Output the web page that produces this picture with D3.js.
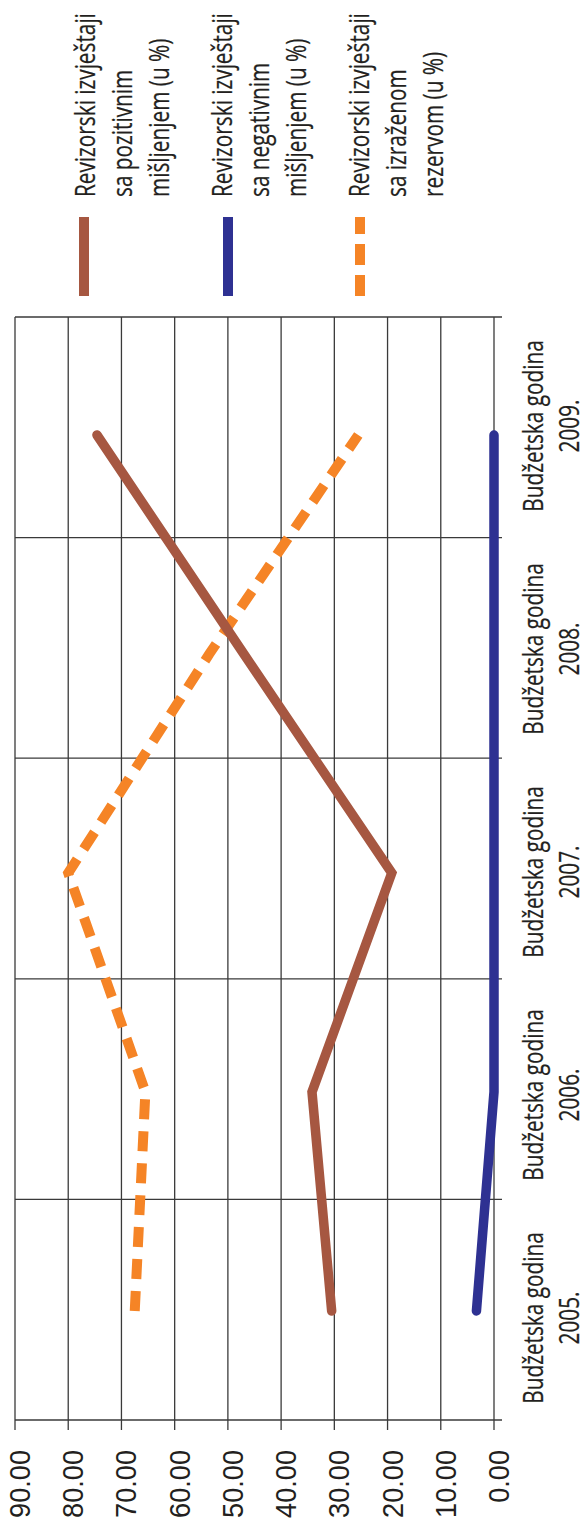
<!DOCTYPE html>
<html>
<head>
<meta charset="utf-8">
<script src="https://cdn.jsdelivr.net/npm/d3@7"></script>
<style>
html,body{margin:0;padding:0;background:#fff;}
svg{display:block;}
</style>
</head>
<body>
<svg id="chart" width="588" height="1521"></svg>
<script>
// ---- data ----
const categories = ["2005.", "2006.", "2007.", "2008.", "2009."];
const categoryPrefix = "Budžetska godina";
const positiveOpinion = [30.5, 34.2, 19.2, 47.0, 74.6];
const negativeOpinion = [3.3, 0.0, 0.0, 0.0, 0.0];
const qualifiedOpinion = [67.5, 65.5, 80.0, 53.5, 25.5];
const valueTicks = [0, 10, 20, 30, 40, 50, 60, 70, 80, 90];
const seriesNames = [
  ["Revizorski izvještaji", "sa pozitivnim", "mišljenjem (u %)"],
  ["Revizorski izvještaji", "sa negativnim", "mišljenjem (u %)"],
  ["Revizorski izvještaji", "sa izraženom", "rezervom (u %)"]
];

// ---- style ----
const colors = ["#A65741", "#2E3192", "#F58426"];
const textColor = "#231F20";
const gridColor = "#3a3a3a";
const labelFont = "'Open Sans', 'Liberation Sans', sans-serif";
const tickFont = "'Liberation Sans', Arial, sans-serif";

const svg = d3.select("#chart");

// layout (chart rotated: value axis horizontal, categories vertical, bottom -> top)
const plotLeft = 15, plotRight = 494, plotTop = 317, plotBottom = 1420;
const x = d3.scaleLinear().domain([0, 90]).range([plotRight, plotLeft]);
const band = d3.scaleBand().domain(categories).range([plotBottom, plotTop]);
const yPoint = d3.scalePoint().domain(categories).range([1311, 435]);
const yLabel = d3.scalePoint().domain(categories).range([1318, 426]);

function measure(str, font, size) {
  const t = svg.append("text").attr("font-family", font).attr("font-size", size).text(str);
  const w = t.node().getComputedTextLength();
  t.remove();
  return w;
}
const labelSize = 28, tickSize = 30;
const kLabel = 184 / measure("Revizorski izvještaji", labelFont, labelSize);
const kTick = 68 / measure("90.00", tickFont, tickSize);

// ---- grid ----
const grid = svg.append("g").attr("stroke", gridColor).attr("stroke-width", 1.3).attr("fill", "none");
grid.selectAll("line.v").data(valueTicks).join("line")
  .attr("x1", d => x(d)).attr("x2", d => x(d))
  .attr("y1", plotTop).attr("y2", plotBottom + 10);
grid.selectAll("line.c").data(categories).join("line")
  .attr("x1", plotLeft).attr("x2", plotRight + 8)
  .attr("y1", d => band(d)).attr("y2", d => band(d));
grid.append("line")
  .attr("x1", plotLeft).attr("x2", plotRight + 8)
  .attr("y1", plotBottom).attr("y2", plotBottom);

// ---- tick labels ----
svg.append("g").selectAll("text").data(valueTicks).join("text")
  .attr("transform", d => `translate(${x(d) + 15},1450) rotate(-90) scale(${kTick},1)`)
  .attr("text-anchor", "end")
  .attr("font-family", tickFont)
  .attr("font-size", tickSize)
  .attr("fill", textColor)
  .text(d => d.toFixed(2));

// ---- category labels ----
const cat = svg.append("g");
cat.selectAll("text.l1").data(categories).join("text")
  .attr("transform", d => `translate(543,${yLabel(d)}) rotate(-90) scale(${kLabel},1)`)
  .attr("text-anchor", "middle")
  .attr("font-family", labelFont).attr("font-size", labelSize).attr("fill", textColor)
  .attr("stroke", textColor).attr("stroke-width", 0.25)
  .text(categoryPrefix);
cat.selectAll("text.l2").data(categories).join("text")
  .attr("transform", d => `translate(579,${yLabel(d)}) rotate(-90) scale(${kLabel},1)`)
  .attr("text-anchor", "middle")
  .attr("font-family", labelFont).attr("font-size", labelSize).attr("fill", textColor)
  .attr("stroke", textColor).attr("stroke-width", 0.25)
  .text(d => d);

// ---- series lines ----
const line = d3.line()
  .x(d => x(d.v))
  .y(d => yPoint(d.c));
const seriesData = [positiveOpinion, negativeOpinion, qualifiedOpinion].map(arr =>
  arr.map((v, i) => ({ c: categories[i], v })));

svg.append("path").datum(seriesData[1])
  .attr("d", line).attr("fill", "none").attr("stroke", colors[1])
  .attr("stroke-width", 9.5).attr("stroke-linecap", "round").attr("stroke-linejoin", "round");
svg.append("path").datum(seriesData[2])
  .attr("d", line).attr("fill", "none").attr("stroke", colors[2])
  .attr("stroke-width", 10).attr("stroke-linecap", "butt").attr("stroke-linejoin", "miter")
  .attr("stroke-dasharray", "20,12");
svg.append("path").datum(seriesData[0])
  .attr("d", line).attr("fill", "none").attr("stroke", colors[0])
  .attr("stroke-width", 9.5).attr("stroke-linecap", "round").attr("stroke-linejoin", "miter");

// ---- legend ----
const legendKeyX = [84, 228, 360];
const legendBaseX = [95, 232, 369];
const legendLineGap = 37;
const legend = svg.append("g");
seriesNames.forEach((lines, i) => {
  const key = legend.append("line")
    .attr("x1", legendKeyX[i]).attr("x2", legendKeyX[i])
    .attr("y1", 296).attr("y2", 217)
    .attr("stroke", colors[i]).attr("stroke-width", 10);
  if (i === 2) key.attr("stroke-dasharray", "21,10");
  lines.forEach((s, j) => {
    legend.append("text")
      .attr("transform", `translate(${legendBaseX[i] + j * legendLineGap},197) rotate(-90) scale(${kLabel},1)`)
      .attr("text-anchor", "start")
      .attr("font-family", labelFont).attr("font-size", labelSize).attr("fill", textColor)
      .attr("stroke", textColor).attr("stroke-width", 0.25)
      .text(s);
  });
});
</script>
</body>
</html>
